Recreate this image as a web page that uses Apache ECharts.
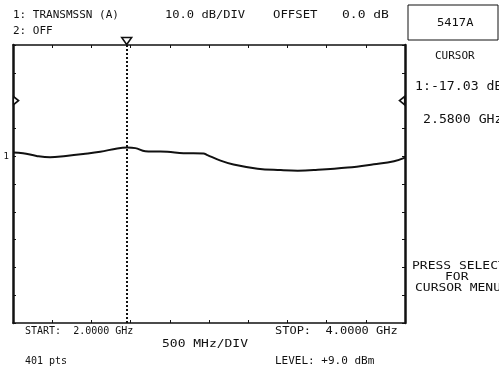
<!DOCTYPE html>
<html>
  <head>
    <meta charset="utf-8">
    <title>5417A transmission</title>
    <script src="https://cdn.jsdelivr.net/npm/echarts@6/dist/echarts.min.js"></script>
    <style>
      body { margin: 0; background: #fff; }
      #main { width: 499px; height: 372px; }
    </style>
  </head>
  <body>
    <div id="main"></div>
    <script type="text/javascript">
      // trace (GHz / dB)
      var freqGHz = [2.000, 2.051, 2.120, 2.189, 2.270, 2.358, 2.445, 2.532, 2.583, 2.624, 2.675, 2.730, 2.788,
                     2.870, 2.972, 2.992, 3.059, 3.125, 3.248, 3.366, 3.453, 3.535, 3.708, 3.841, 3.944, 4.000];
      var transDb = [-18.7, -18.9, -19.9, -20.4, -19.9, -19.2, -18.4, -17.2, -16.9, -17.1, -18.2, -18.3, -18.4,
                     -18.9, -19.0, -19.6, -21.6, -23.0, -24.5, -25.0, -25.2, -25.0, -24.1, -22.9, -21.8, -20.5];
      var cursorGHz = 2.58;
      var refLevelDb = -20;   // the "1" reference mark
      var sideMarkDb = 0;

      var font = 'DejaVu Sans Mono';
      var ink = '#111';

      var points = [];
      for (var i = 0; i < freqGHz.length; i++) {
        points.push([freqGHz[i], transDb[i]]);
      }

      // printer text: size in px, sx = horizontal stretch (the 5417A font is wide)
      function txt(x, y, s, size, sx) {
        return {
          type: 'text', x: x, y: y, scaleX: sx || 1,
          style: { text: s, fill: ink, font: size + 'px "' + font + '"', textAlign: 'left', textVerticalAlign: 'middle' }
        };
      }

      var myChart = echarts.init(document.getElementById('main'), null, { renderer: 'canvas' });
      myChart.setOption({
        animation: false,
        backgroundColor: '#fff',
        grid: { left: 13, right: 94, top: 45, bottom: 49 },
        xAxis: [
          { type: 'value', min: 2, max: 4, interval: 0.2, position: 'bottom',
            axisLine: { onZero: false, lineStyle: { color: ink, width: 1.5 } },
            axisTick: { inside: true, length: 3, lineStyle: { color: ink } },
            axisLabel: { show: false }, splitLine: { show: false } },
          { type: 'value', min: 2, max: 4, interval: 0.2, position: 'top',
            axisLine: { onZero: false, lineStyle: { color: ink, width: 1.5 } },
            axisTick: { inside: true, length: 3, lineStyle: { color: ink } },
            axisLabel: { show: false }, splitLine: { show: false } }
        ],
        yAxis: [
          { type: 'value', min: -80, max: 20, interval: 10, position: 'left',
            axisLine: { onZero: false, lineStyle: { color: ink, width: 2.5 } },
            axisTick: { inside: true, length: 3, lineStyle: { color: ink } },
            axisLabel: { show: true, margin: 4, fontSize: 9, fontFamily: font, color: ink,
              formatter: function (v) { return v === refLevelDb ? '1' : ''; } },
            splitLine: { show: false } },
          { type: 'value', min: -80, max: 20, interval: 10, position: 'right',
            axisLine: { onZero: false, lineStyle: { color: ink, width: 2.5 } },
            axisTick: { inside: true, length: 3, lineStyle: { color: ink } },
            axisLabel: { show: false }, splitLine: { show: false } }
        ],
        series: [{
          type: 'line',
          data: points,
          smooth: 0.4,
          showSymbol: false,
          lineStyle: { color: ink, width: 2 },
          markLine: {
            silent: true,
            symbol: 'none',
            label: { show: false },
            lineStyle: { color: ink, width: 2, type: [2, 2] },
            data: [{ xAxis: cursorGHz }]
          },
          markPoint: {
            silent: true,
            label: { show: false },
            data: [
              { coord: [cursorGHz, 20], symbol: 'triangle', symbolRotate: 180, symbolSize: [10, 7], symbolOffset: [0, -4],
                itemStyle: { color: '#fff', borderColor: ink, borderWidth: 1.5 } },
              { coord: [2, sideMarkDb], symbol: 'triangle', symbolRotate: -90, symbolSize: [8, 5], symbolOffset: [3, 0],
                itemStyle: { color: '#fff', borderColor: ink, borderWidth: 1.5 } },
              { coord: [4, sideMarkDb], symbol: 'triangle', symbolRotate: 90, symbolSize: [8, 5], symbolOffset: [-3, 0],
                itemStyle: { color: '#fff', borderColor: ink, borderWidth: 1.5 } }
            ]
          }
        }],
        graphic: [
          txt(13, 15, '1: TRANSMSSN (A)', 11),
          txt(13, 31, '2: OFF', 11),
          txt(165, 15, '10.0 dB/DIV', 11, 1.1),
          txt(273, 15, 'OFFSET', 11, 1.12),
          txt(342, 15, '0.0 dB', 11, 1.18),
          { type: 'rect', x: 408, y: 5, shape: { width: 90, height: 35 },
            style: { fill: '#fff', stroke: ink, lineWidth: 1 } },
          txt(437, 23, '5417A', 11, 1.1),
          txt(435, 56, 'CURSOR', 11),
          txt(415, 87, '1:-17.03 dB', 12, 1.1),
          txt(423, 120, '2.5800 GHz', 12, 1.1),
          txt(412, 266, 'PRESS SELECT', 11, 1.18),
          txt(445, 277, 'FOR', 11, 1.18),
          txt(415, 288, 'CURSOR MENU', 11, 1.18),
          txt(25, 331, 'START:  2.0000 GHz', 10),
          txt(162, 344, '500 MHz/DIV', 11, 1.18),
          txt(275, 331, 'STOP:  4.0000 GHz', 11, 1.09),
          txt(25, 361, '401 pts', 10),
          txt(275, 361, 'LEVEL: +9.0 dBm', 11)
        ]
      });
    </script>
  </body>
</html>
